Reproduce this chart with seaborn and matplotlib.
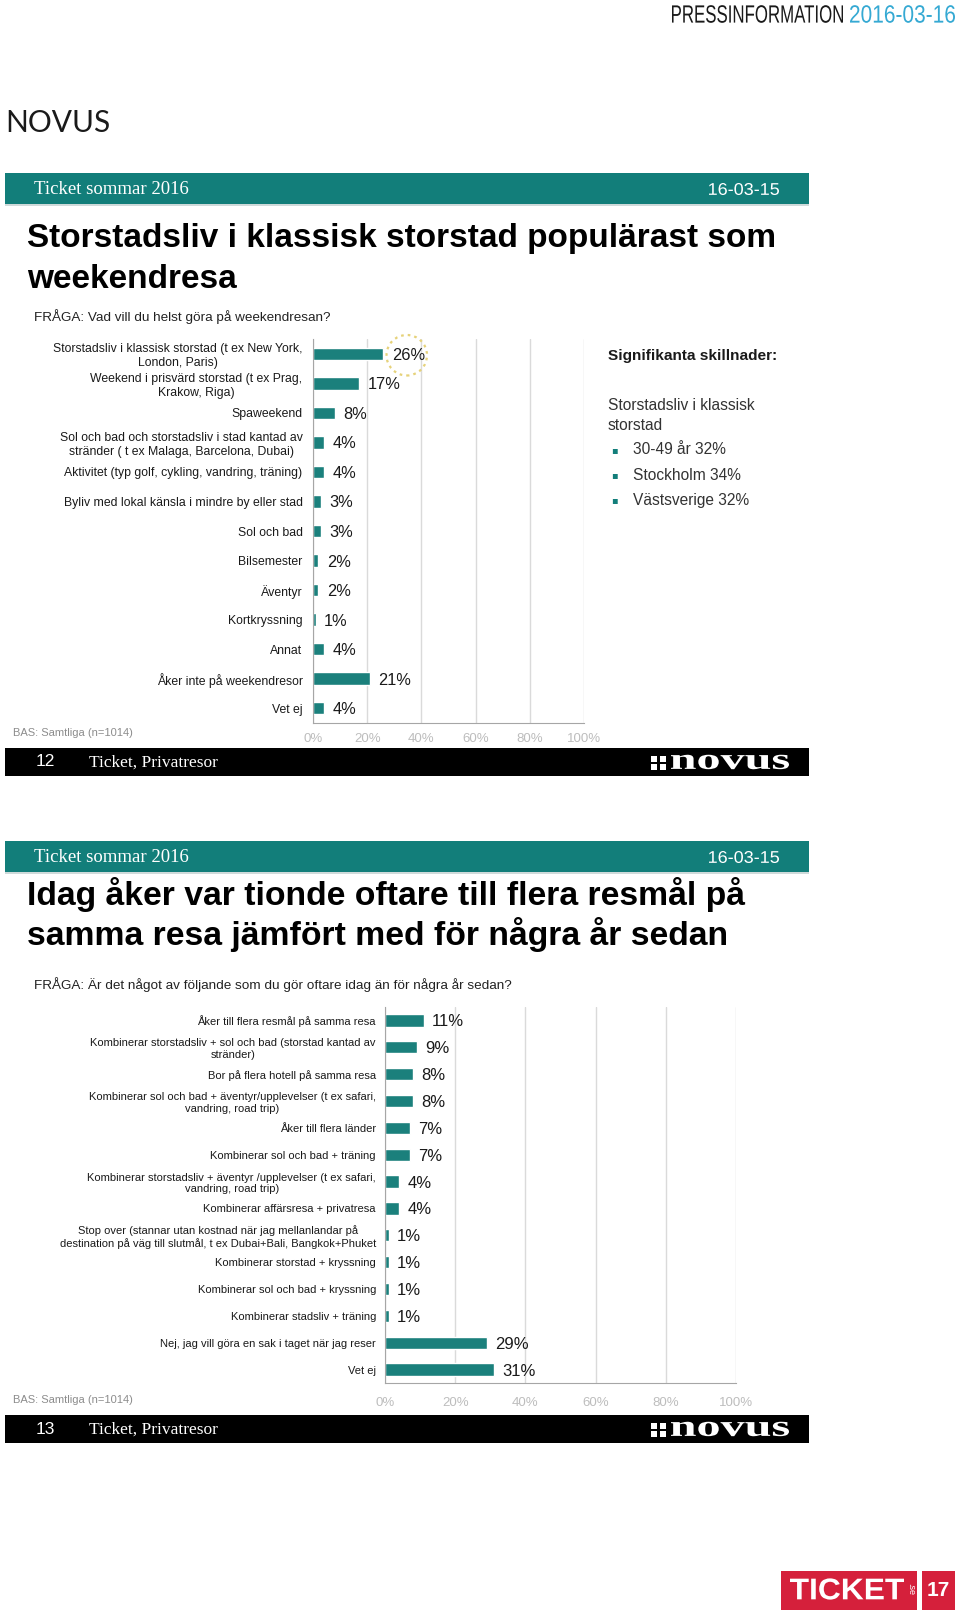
"""Novus / Ticket press release page: two weekend-travel survey slides."""

import matplotlib

matplotlib.use("Agg")
import matplotlib.pyplot as plt
import matplotlib.transforms as mtransforms
import numpy as np
import pandas as pd
import seaborn as sns
from matplotlib.font_manager import FontProperties
from matplotlib.patches import PathPatch, Rectangle
from matplotlib.textpath import TextPath

W, H = 960, 1618
TEAL = "#127E7A"
BAR = "#1B807C"
GRID = "#DADADA"
TICK_GREY = "#BDBDBD"
SANS = ["Liberation Sans", "DejaVu Sans"]
SERIF = ["Liberation Serif", "DejaVu Serif"]

weekend_labels = [
    "Storstadsliv i klassisk storstad (t ex New York,\nLondon, Paris)",
    "Weekend i prisvärd storstad (t ex Prag,\nKrakow, Riga)",
    "Spaweekend",
    "Sol och bad och storstadsliv i stad kantad av\nstränder ( t ex Malaga, Barcelona, Dubai)",
    "Aktivitet (typ golf, cykling, vandring, träning)",
    "Byliv med lokal känsla i mindre by eller stad",
    "Sol och bad",
    "Bilsemester",
    "Äventyr",
    "Kortkryssning",
    "Annat",
    "Åker inte på weekendresor",
    "Vet ej",
]
weekend_values = [26, 17, 8, 4, 4, 3, 3, 2, 2, 1, 4, 21, 4]

often_labels = [
    "Åker till flera resmål på samma resa",
    "Kombinerar storstadsliv + sol och bad (storstad kantad av\nstränder)",
    "Bor på flera hotell på samma resa",
    "Kombinerar sol och bad + äventyr/upplevelser (t ex safari,\nvandring, road trip)",
    "Åker till flera länder",
    "Kombinerar sol och bad + träning",
    "Kombinerar storstadsliv + äventyr /upplevelser (t ex safari,\nvandring, road trip)",
    "Kombinerar affärsresa + privatresa",
    "Stop over (stannar utan kostnad när jag mellanlandar på\n"
    "destination på väg till slutmål, t ex Dubai+Bali, Bangkok+Phuket",
    "Kombinerar storstad + kryssning",
    "Kombinerar sol och bad + kryssning",
    "Kombinerar stadsliv + träning",
    "Nej, jag vill göra en sak i taget när jag reser",
    "Vet ej",
]
often_values = [11, 9, 8, 8, 7, 7, 4, 4, 1, 1, 1, 1, 29, 31]

x_ticks = [0, 20, 40, 60, 80, 100]
x_tick_labels = ["0%", "20%", "40%", "60%", "80%", "100%"]
sig_heading = "Signifikanta skillnader:"
sig_group = ["Storstadsliv i klassisk", "storstad"]
sig_items = ["30-49 år 32%", "Stockholm 34%", "Västsverige 32%"]


def fx(px):
    return px / W


def fy(py):
    return 1 - py / H


def rect(fig, x0, y0, x1, y1, color):
    fig.add_artist(Rectangle((fx(x0), fy(y1)), fx(x1) - fx(x0), fy(y0) - fy(y1),
                             transform=fig.transFigure, facecolor=color, edgecolor="none"))


def text(fig, x, y, s, **kw):
    kw.setdefault("va", "center")
    kw.setdefault("family", SANS)
    fig.text(fx(x), fy(y), s, **kw)


def fitted_text(fig, x0, x1, y, s, size_px, color, family=SANS, weight="normal"):
    """Text drawn as a path, squeezed/stretched to span x0..x1 (condensed or wide faces)."""
    tp = TextPath((0, 0), s, size=size_px, prop=FontProperties(family=family, weight=weight))
    bb = tp.get_extents()
    sx = (x1 - x0) / bb.width
    cy = (bb.y0 + bb.y1) / 2
    tr = (mtransforms.Affine2D().translate(-bb.x0, -cy).scale(sx, 1)
          .translate(x0, H - y))
    fig.add_artist(PathPatch(tp, transform=tr, facecolor=color, edgecolor="none", lw=0))


def slide_frame(fig, top, title_lines, title_y, title_size, question, footer_top, number, bas_y):
    rect(fig, 5, top, 809, top + 31, TEAL)
    rect(fig, 5, top + 31, 809, top + 33, "#CFDADA")
    text(fig, 34, top + 17, "Ticket sommar 2016", family=SERIF, size=13.5, color="white")
    fitted_text(fig, 709, 779, top + 16, "16-03-15", 17, "white")
    for line, y in zip(title_lines, title_y):
        text(fig, 27, y, line, size=title_size, weight="bold", color="black")
    text(fig, 34, top + 144, question, size=9.7, color="#222222")
    text(fig, 13, bas_y, "BAS: Samtliga (n=1014)", size=8, color="#8C8C8C")

    rect(fig, 5, footer_top, 809, footer_top + 28, "black")
    text(fig, 36, footer_top + 14, number, size=12.5, color="white")
    text(fig, 89, footer_top + 15, "Ticket, Privatresor", family=SERIF, size=12.5, color="white")
    # novus logo: 2x2 squares + wordmark
    for sx in (651, 660):
        for sy in (footer_top + 8, footer_top + 16):
            rect(fig, sx, sy, sx + 6, sy + 6, "white")
    fitted_text(fig, 671, 789, footer_top + 14, "novus", 30, "white", family=SERIF, weight="bold")


def bar_chart(fig, box, labels, values, label_size, value_size, bar_width, label_pad, tick_pad):
    x0, y0, x1, y1 = box
    ax = fig.add_axes([fx(x0), fy(y1), fx(x1) - fx(x0), fy(y0) - fy(y1)])
    df = pd.DataFrame({"label": labels, "value": values})
    sns.barplot(data=df, x="value", y="label", orient="h", color=BAR, saturation=1,
                width=bar_width, ax=ax)
    value_texts = ax.bar_label(ax.containers[0], labels=[f"{v}%" for v in values], padding=6,
                               fontsize=value_size, color="#1A1A1A")
    for t in value_texts:
        t.set_va("center_baseline")
    n = len(labels)
    ax.set_xlim(0, 100)
    ax.set_ylim(n - 0.5, -0.5)
    ax.set_xticks(x_ticks)
    ax.set_xticklabels(x_tick_labels, color=TICK_GREY, fontsize=9.5)
    ax.set_yticks(np.arange(n + 1) - 0.5, minor=True)
    ax.tick_params(axis="y", which="major", length=0, pad=label_pad, labelsize=label_size,
                   labelcolor="#1A1A1A")
    ax.tick_params(axis="y", which="minor", length=4, color="#A6A6A6", width=0.8)
    ax.tick_params(axis="x", length=4, color="#A6A6A6", width=0.8, pad=tick_pad)
    for lbl in ax.get_yticklabels():
        lbl.set_multialignment("center")
    ax.xaxis.grid(True, color=GRID, lw=1)
    ax.yaxis.grid(False)
    ax.set_axisbelow(True)
    ax.set_xlabel("")
    ax.set_ylabel("")
    for side in ("top", "right"):
        ax.spines[side].set_visible(False)
    for side in ("left", "bottom"):
        ax.spines[side].set_color("#A6A6A6")
        ax.spines[side].set_linewidth(0.8)
    ax.set_facecolor("none")
    return ax


sns.set_style("white")
plt.rcParams["font.family"] = SANS

fig = plt.figure(figsize=(W / 100, H / 100), dpi=100)

# page header
fitted_text(fig, 672, 843, 14, "PRESSINFORMATION", 25, "#1A1A1A")
fitted_text(fig, 850, 955, 14, "2016-03-16", 25, "#35A9D3")
text(fig, 5, 123, "NOVUS", family=["Lato", "DejaVu Sans"], size=21.5, color="#1A1A1A")

# slide 12
slide_frame(fig, 173, ["Storstadsliv i klassisk storstad populärast som", "weekendresa"],
            [238, 279], 24, "FRÅGA: Vad vill du helst göra på weekendresan?", 748, "12", 733)
ax1 = bar_chart(fig, (313, 339, 584, 723), weekend_labels, weekend_values,
                label_size=8.8, value_size=11.8, bar_width=0.42, label_pad=7.5, tick_pad=3)
ax1.scatter([weekend_values[0] + 8.6], [0.05], s=850, facecolors="none", edgecolors="#E6D27A",
            linestyle=(0, (1.2, 1.8)), linewidths=1.6, clip_on=False, zorder=5)
ax1.set_ylim(len(weekend_labels) - 0.5, -0.5)

text(fig, 608, 356, sig_heading, size=11.1, weight="bold", color="#1A1A1A")
for line, y in zip(sig_group, [406, 425]):
    text(fig, 608, y, line, size=11.2, color="#333333")
for item, y in zip(sig_items, [450, 475, 500]):
    text(fig, 611, y, "▪", family=["DejaVu Sans"], size=7, color=TEAL)
    text(fig, 633, y, item, size=11.2, color="#333333")

# slide 13
slide_frame(fig, 841, ["Idag åker var tionde oftare till flera resmål på",
                       "samma resa jämfört med för några år sedan"],
            [894, 934], 24.3,
            "FRÅGA: Är det något av följande som du gör oftare idag än för några år sedan?",
            1415, "13", 1400)
bar_chart(fig, (385, 1007, 736, 1383), often_labels, often_values,
          label_size=8.0, value_size=12, bar_width=0.46, label_pad=6.5, tick_pad=6)

# Ticket logo + page number
rect(fig, 781, 1571, 917, 1610, "#D5203B")
fitted_text(fig, 790, 904, 1589, "TICKET", 30, "white", weight="bold")
text(fig, 911, 1589, ".se", size=6.5, color="white", ha="center", rotation=-90)
rect(fig, 922, 1571, 955, 1610, "#D5203B")
text(fig, 938.5, 1590, "17", size=15, weight="bold", color="white", ha="center")

fig.savefig("out.png", dpi=100)
